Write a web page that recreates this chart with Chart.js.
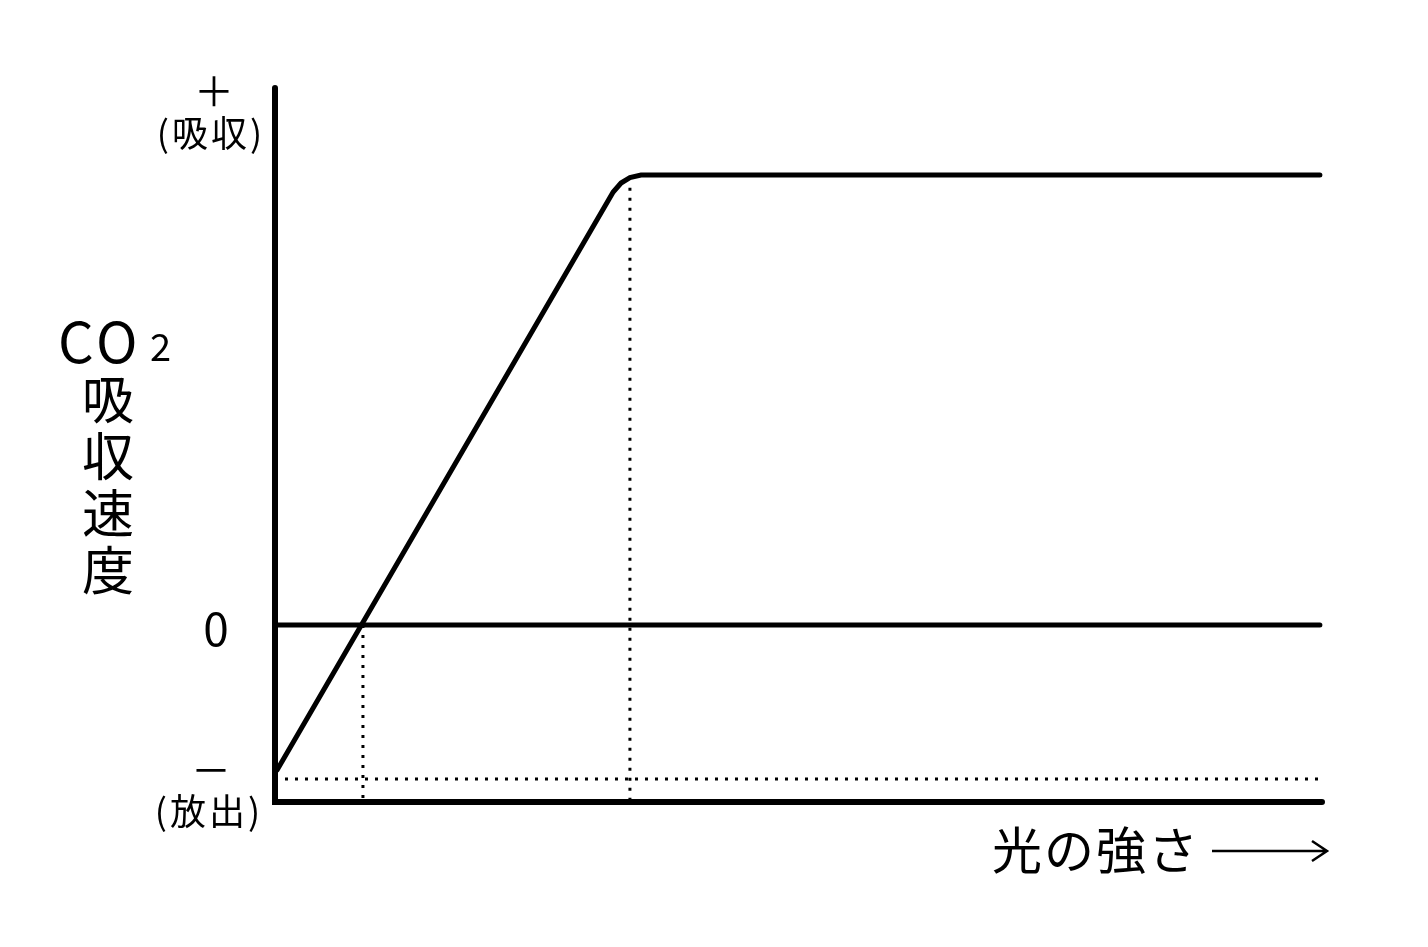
<!DOCTYPE html>
<html>
<head>
<meta charset="utf-8">
<script src="https://cdn.jsdelivr.net/npm/chart.js@4.4.1/dist/chart.umd.min.js"></script>
<style>
  html, body { margin: 0; padding: 0; background: #fff; }
  canvas { display: block; }
</style>
</head>
<body>
<canvas id="chart" width="1428" height="947"></canvas>
<script>
// 光の強さ (0〜100) と CO2吸収速度 (放出 = 負)
const yMin = -10;
const yMax = 30.34;
const xMax = 100;

const curveX = [0.2, 32.3, 33.05, 33.9, 34.96, 99.8];
const curveY = [-8.19, 24.46, 24.97, 25.28, 25.42, 25.42];

const respirationY = -8.7;   // 暗黒時の呼吸速度
const compensationX = 8.4;   // 補償点
const saturationX = 33.9;    // 飽和点
const saturationY = 24.7;

const zeroLineEnd = 99.8;

const toPoints = (xs, ys) => xs.map((x, i) => ({ x: x, y: ys[i] }));

const solid = (data, width) => ({
  data: data,
  borderColor: '#000',
  borderWidth: width,
  pointRadius: 0,
  showLine: true,
  fill: false,
  clip: false,
  borderCapStyle: 'round',
  borderJoinStyle: 'miter'
});

const dotted = (data) => ({
  data: data,
  borderColor: '#000',
  borderWidth: 3,
  borderDash: [3, 7],
  pointRadius: 0,
  showLine: true,
  fill: false,
  clip: false,
  borderCapStyle: 'butt'
});

const labelPlugin = {
  id: 'labels',
  afterDraw(chart) {
    const ctx = chart.ctx;
    const y = chart.scales.y;
    const jp = '"Noto Sans CJK JP", "Noto Sans", sans-serif';
    ctx.save();
    ctx.fillStyle = '#000';
    ctx.textAlign = 'center';
    ctx.textBaseline = 'middle';

    ctx.font = '40px ' + jp;
    ctx.fillText('＋', 214, 91);
    ctx.font = '36px ' + jp;
    ctx.letterSpacing = '3px';
    ctx.fillText('(吸収)', 211, 133);

    ctx.letterSpacing = '0px';
    ctx.font = '46px ' + jp;
    ctx.fillText('0', 216, y.getPixelForValue(0) + 4);

    ctx.font = '40px ' + jp;
    ctx.fillText('－', 211, 770);
    ctx.font = '36px ' + jp;
    ctx.letterSpacing = '3px';
    ctx.fillText('(放出)', 209, 811);

    // 縦軸タイトル
    ctx.font = '56px ' + jp;
    ctx.letterSpacing = '4px';
    ctx.textAlign = 'left';
    ctx.fillText('CO', 58, 342);
    ctx.letterSpacing = '0px';
    ctx.font = '38px ' + jp;
    ctx.fillText('2', 150, 347);
    ctx.textAlign = 'center';
    ctx.font = '52px ' + jp;
    ['吸', '収', '速', '度'].forEach((c, i) => ctx.fillText(c, 108, 399 + i * 57));

    // 横軸タイトル
    ctx.font = '50px ' + jp;
    ctx.letterSpacing = '2px';
    ctx.fillText('光の強さ', 1096, 850);
    ctx.letterSpacing = '0px';

    // 矢印
    ctx.strokeStyle = '#000';
    ctx.lineWidth = 2.5;
    ctx.beginPath();
    ctx.moveTo(1212, 851);
    ctx.lineTo(1326, 851);
    ctx.moveTo(1312, 841);
    ctx.lineTo(1327, 851);
    ctx.lineTo(1312, 861);
    ctx.stroke();
    ctx.restore();
  }
};

new Chart(document.getElementById('chart'), {
  type: 'scatter',
  data: {
    datasets: [
      dotted([{ x: 0, y: respirationY }, { x: xMax, y: respirationY }]),
      dotted([{ x: compensationX, y: 0 }, { x: compensationX, y: yMin }]),
      dotted([{ x: saturationX, y: saturationY }, { x: saturationX, y: yMin }]),
      solid([{ x: 0, y: 0 }, { x: zeroLineEnd, y: 0 }], 5),
      solid(toPoints(curveX, curveY), 5),
      solid([{ x: 0, y: yMax }, { x: 0, y: yMin }, { x: xMax, y: yMin }], 6)
    ]
  },
  options: {
    responsive: false,
    devicePixelRatio: 1,
    animation: false,
    layout: { padding: { left: 275, right: 106, top: 88, bottom: 145 } },
    plugins: { legend: { display: false }, tooltip: { enabled: false } },
    scales: {
      x: { type: 'linear', display: false, min: 0, max: xMax },
      y: { type: 'linear', display: false, min: yMin, max: yMax }
    },
    elements: { line: { tension: 0 } }
  },
  plugins: [labelPlugin]
});
</script>
</body>
</html>
